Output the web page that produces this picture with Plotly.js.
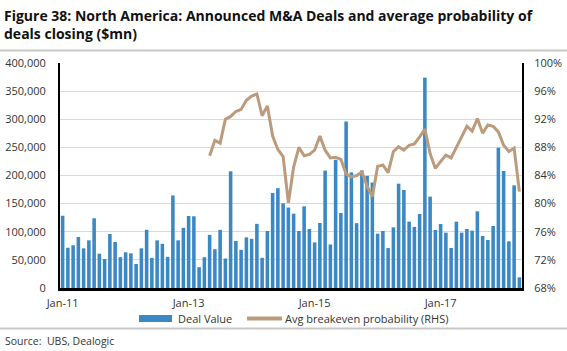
<!DOCTYPE html>
<html>
<head>
<meta charset="utf-8">
<script src="https://cdn.plot.ly/plotly-3.0.1.min.js"></script>
<style>html,body{margin:0;padding:0;background:#fff;}#chart{width:567px;height:351px;}</style>
</head>
<body>
<div id="chart"></div>
<script>
const months = [
 'Jan-11','Feb-11','Mar-11','Apr-11','May-11','Jun-11','Jul-11','Aug-11','Sep-11','Oct-11','Nov-11','Dec-11',
 'Jan-12','Feb-12','Mar-12','Apr-12','May-12','Jun-12','Jul-12','Aug-12','Sep-12','Oct-12','Nov-12','Dec-12',
 'Jan-13','Feb-13','Mar-13','Apr-13','May-13','Jun-13','Jul-13','Aug-13','Sep-13','Oct-13','Nov-13','Dec-13',
 'Jan-14','Feb-14','Mar-14','Apr-14','May-14','Jun-14','Jul-14','Aug-14','Sep-14','Oct-14','Nov-14','Dec-14',
 'Jan-15','Feb-15','Mar-15','Apr-15','May-15','Jun-15','Jul-15','Aug-15','Sep-15','Oct-15','Nov-15','Dec-15',
 'Jan-16','Feb-16','Mar-16','Apr-16','May-16','Jun-16','Jul-16','Aug-16','Sep-16','Oct-16','Nov-16','Dec-16',
 'Jan-17','Feb-17','Mar-17','Apr-17','May-17','Jun-17','Jul-17','Aug-17','Sep-17','Oct-17','Nov-17','Dec-17',
 'Jan-18','Feb-18','Mar-18','Apr-18'
];
const dealValue = [
 128500, 71500, 76000, 90700, 70500, 84700, 124000, 61000, 51600, 96000, 81800, 54800,
 63400, 61600, 42700, 70500, 103500, 53600, 84700, 78500, 55400, 164500, 84700, 107000,
 128000, 127500, 37000, 54800, 94500, 69000, 103400, 52400, 207500, 83600, 67800, 90000,
 87400, 114000, 53600, 101300, 169000, 177500, 150500, 143000, 132100, 101300, 145200, 104900,
 81000, 115600, 208800, 77400, 227800, 133300, 296000, 205600, 115300, 209000, 199300, 187500,
 96600, 101300, 71000, 107900, 185500, 174200, 118000, 108700, 131600, 374000, 162400, 103100,
 113800, 98400, 71100, 117900, 98400, 104900, 101900, 136300, 92400, 85300, 110200, 249500,
 208000, 83000, 182500, 19000
];
const avgProbability = [
 null, null, null, null, null, null, null, null, null, null, null, null,
 null, null, null, null, null, null, null, null, null, null, null, null,
 null, null, null, null, 0.868, 0.890, 0.886, 0.920, 0.924, 0.931, 0.934, 0.947,
 0.953, 0.956, 0.925, 0.939, 0.896, 0.877, 0.867, 0.801, 0.852, 0.880, 0.868, 0.870,
 0.876, 0.896, 0.876, 0.865, 0.866, 0.863, 0.842, 0.838, 0.840, 0.845, 0.825, 0.810,
 0.853, 0.855, 0.844, 0.874, 0.881, 0.876, 0.883, 0.885, 0.895, 0.906, 0.871, 0.850,
 0.860, 0.869, 0.865, 0.879, 0.895, 0.910, 0.903, 0.921, 0.900, 0.912, 0.910, 0.902,
 0.883, 0.874, 0.879, 0.817
];
const tickMonths = ['Jan-11','Jan-13','Jan-15','Jan-17'];
const leftTicks = [0, 50000, 100000, 150000, 200000, 250000, 300000, 350000, 400000];
const rightTicks = [0.68, 0.72, 0.76, 0.80, 0.84, 0.88, 0.92, 0.96, 1.00];
const seriesNames = ['Deal Value', 'Avg breakeven probability (RHS)'];
const titleText = 'Figure 38: North America: Announced M&A Deals and average probability of<br>deals closing ($mn)';
const sourceText = 'Source:  UBS, Dealogic';

const FONT = 'Open Sans, Noto Sans, DejaVu Sans, sans-serif';
const barColor = '#3a89c4';
const lineColor = '#bc9b7d';

// plot area in pixels: x 60..522, y 63..288
const L = 60, R = 522, T = 63, B = 288;
const px = x => (x - L) / (R - L);
const py = y => (B - y) / (B - T);
const legendY = 318.5;

const traces = [
  {
    type: 'bar', x: months, y: dealValue, name: seriesNames[0],
    marker: {color: barColor, line: {width: 0}}, yaxis: 'y', showlegend: false
  },
  {
    type: 'scatter', mode: 'lines', x: months, y: avgProbability, name: seriesNames[1],
    line: {color: lineColor, width: 3, shape: 'linear'}, connectgaps: false,
    yaxis: 'y2', showlegend: false
  }
];

const layout = {
  width: 567, height: 351,
  margin: {l: 60, r: 45, t: 63, b: 63, pad: 0},
  paper_bgcolor: '#ffffff', plot_bgcolor: '#ffffff',
  font: {family: FONT, size: 11, color: '#333333'},
  bargap: 0.32,
  xaxis: {
    type: 'category', categoryorder: 'array', categoryarray: months,
    range: [-0.5, months.length - 0.5],
    tickmode: 'array', tickvals: tickMonths, ticktext: tickMonths,
    ticks: '', showgrid: false, zeroline: false,
    showline: true, linecolor: '#000000', linewidth: 2.5,
    ticklabelstandoff: 3,
    tickfont: {family: FONT, size: 11, color: '#333333'}
  },
  yaxis: {
    range: [0, 400000], tickmode: 'array', tickvals: leftTicks,
    tickformat: ',d', ticks: '', showgrid: true, gridcolor: '#d9d9d9', gridwidth: 1,
    zeroline: false, showline: true, linecolor: '#000000', linewidth: 2,
    ticklabelstandoff: 10,
    tickfont: {family: FONT, size: 11, color: '#333333'}
  },
  yaxis2: {
    overlaying: 'y', side: 'right', range: [0.68, 1.00],
    tickmode: 'array', tickvals: rightTicks, tickformat: '.0%',
    ticks: '', showgrid: false, zeroline: false,
    showline: true, linecolor: '#000000', linewidth: 2,
    ticklabelstandoff: 8,
    tickfont: {family: FONT, size: 11, color: '#333333'}
  },
  shapes: [
    {type: 'line', xref: 'paper', yref: 'paper', x0: px(0), x1: px(567), y0: py(50.5), y1: py(50.5),
     line: {color: '#c8c8c8', width: 2}},
    {type: 'line', xref: 'paper', yref: 'paper', x0: px(0), x1: px(567), y0: py(328.5), y1: py(328.5),
     line: {color: '#c8c8c8', width: 2}},
    {type: 'rect', xref: 'paper', yref: 'paper', x0: px(139), x1: px(172), y0: py(legendY - 3.5), y1: py(legendY + 3.5),
     fillcolor: barColor, line: {width: 0}},
    {type: 'line', xref: 'paper', yref: 'paper', x0: px(247), x1: px(282), y0: py(legendY), y1: py(legendY),
     line: {color: lineColor, width: 4}}
  ],
  annotations: [
    {text: titleText, xref: 'paper', yref: 'paper', x: px(2), y: py(4),
     xanchor: 'left', yanchor: 'top', align: 'left', showarrow: false,
     font: {family: FONT, size: 14, color: '#111111', weight: 'bold'}},
    {text: seriesNames[0], xref: 'paper', yref: 'paper', x: px(176), y: py(legendY),
     xanchor: 'left', yanchor: 'middle', showarrow: false,
     font: {family: FONT, size: 11, color: '#333333'}},
    {text: seriesNames[1], xref: 'paper', yref: 'paper', x: px(283), y: py(legendY),
     xanchor: 'left', yanchor: 'middle', showarrow: false,
     font: {family: FONT, size: 11, color: '#333333'}},
    {text: sourceText, xref: 'paper', yref: 'paper', x: px(3), y: py(341),
     xanchor: 'left', yanchor: 'middle', showarrow: false,
     font: {family: FONT, size: 10.5, color: '#333333'}}
  ],
  showlegend: false
};

Plotly.newPlot('chart', traces, layout, {displayModeBar: false, staticPlot: true});
</script>
</body>
</html>
